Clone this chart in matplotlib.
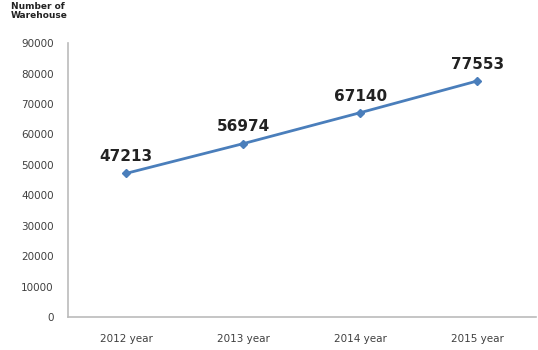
import matplotlib.pyplot as plt
import numpy as np

years = ['2012 year', '2013 year', '2014 year', '2015 year']
warehouses = [47213, 56974, 67140, 77553]

fig = plt.figure(figsize=(5.38, 3.5), dpi=100)
ax = fig.add_axes([0.126, 0.094, 0.87, 0.783])

x = np.arange(len(years))
ax.plot(x, warehouses, color='#4A7EBB', lw=2, marker='D', ms=4)

for xi, v in zip(x, warehouses):
    ax.text(xi, v + 3000, str(v), ha='center', va='bottom',
            fontsize=11, fontweight='bold', color='#222222')

ax.set_xlim(-0.5, 3.5)
ax.set_ylim(0, 90000)
ax.set_yticks(np.arange(0, 90001, 10000))
ax.set_xticks(x)
ax.set_xticklabels(years)
ax.tick_params(length=0, labelsize=7.5, colors='#404040')
ax.tick_params(axis='x', pad=12)
ax.tick_params(axis='y', pad=10)

for s in ['top', 'right']:
    ax.spines[s].set_visible(False)
for s in ['left', 'bottom']:
    ax.spines[s].set_color('#BBBBBB')
    ax.spines[s].set_linewidth(1.2)

fig.text(0.02, 0.995, 'Number of\nWarehouse', ha='left', va='top',
         fontsize=6.5, fontweight='bold', color='#222222', linespacing=1.1)

fig.savefig('out.png', dpi=100)
